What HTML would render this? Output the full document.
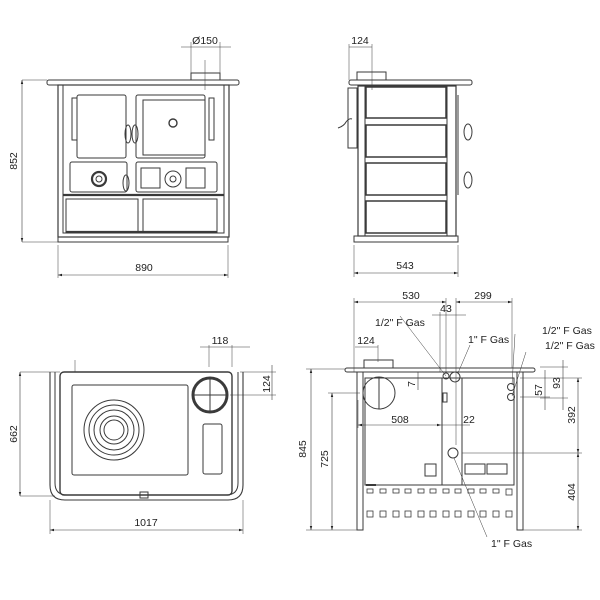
<!DOCTYPE html>
<html><head><meta charset="utf-8"><style>
html,body{margin:0;padding:0;background:#fff}
svg{display:block}
text{font-family:"Liberation Sans",sans-serif;font-size:10.5px;fill:#222}
</style></head><body>
<svg width="600" height="600" viewBox="0 0 600 600" xmlns="http://www.w3.org/2000/svg">
<defs>
<marker id="a" viewBox="0 0 10 10" refX="10" refY="5" markerWidth="7" markerHeight="7" orient="auto-start-reverse"><path d="M0,2 L10,5 L0,8 z" fill="#222"/></marker>
</defs>
<g fill="none" stroke="#3a3a3a" stroke-width="1">
<!-- FRONT VIEW -->
<rect x="47" y="80" width="192" height="5" rx="2"/>
<rect x="191" y="73" width="29" height="7"/>
<line x1="205" y1="60" x2="205" y2="90" stroke-width="0.5"/>
<rect x="58" y="85" width="171" height="152" stroke-width="1.2"/>
<rect x="63" y="85" width="161" height="148"/>
<rect x="77" y="95" width="49" height="63" rx="2"/>
<rect x="136" y="95" width="69" height="63" rx="2"/>
<rect x="143" y="100" width="62" height="55"/>
<circle cx="173" cy="123" r="4" stroke-width="1.4"/>
<rect x="72" y="98" width="5" height="42"/>
<rect x="209" y="98" width="5" height="42"/>
<rect x="70" y="162" width="57" height="30" rx="2"/>
<rect x="136" y="162" width="81" height="30" rx="2"/>
<circle cx="99" cy="179" r="7" stroke-width="2.2"/>
<circle cx="99" cy="179" r="3"/>
<rect x="141" y="168" width="19" height="20"/>
<rect x="186" y="168" width="19" height="20"/>
<circle cx="173" cy="179" r="8"/>
<circle cx="173" cy="179" r="3"/>
<ellipse cx="128" cy="134" rx="3" ry="9"/><ellipse cx="135" cy="134" rx="3" ry="9"/>
<ellipse cx="126" cy="183" rx="3" ry="8"/>
<line x1="63" y1="195" x2="224" y2="195" stroke-width="2.2"/>
<rect x="66" y="199" width="72" height="34"/>
<rect x="143" y="199" width="74" height="34"/>
<line x1="66" y1="232" x2="217" y2="232" stroke-width="2.2"/>
<rect x="58" y="237" width="170" height="5"/>
<!-- front dims -->
<line x1="22" y1="80" x2="47" y2="80" stroke-width="0.5"/>
<line x1="22" y1="242" x2="58" y2="242" stroke-width="0.5"/>
<line x1="22" y1="80" x2="22" y2="242" stroke-width="0.6" marker-start="url(#a)" marker-end="url(#a)"/>
<line x1="58" y1="245" x2="58" y2="278" stroke-width="0.5"/>
<line x1="228" y1="245" x2="228" y2="278" stroke-width="0.5"/>
<line x1="58" y1="275" x2="228" y2="275" stroke-width="0.6" marker-start="url(#a)" marker-end="url(#a)"/>
<line x1="191" y1="42" x2="191" y2="73" stroke-width="0.5"/>
<line x1="220" y1="42" x2="220" y2="73" stroke-width="0.5"/>
<line x1="181" y1="47" x2="231" y2="47" stroke-width="0.6"/>

<!-- SIDE VIEW -->
<rect x="349" y="80" width="123" height="5" rx="2"/>
<rect x="357" y="72" width="29" height="8"/>
<rect x="358" y="86" width="98" height="150" stroke-width="1.2"/>
<rect x="365" y="86" width="82" height="150"/>
<rect x="366" y="87" width="80" height="31" stroke-width="1.5"/>
<rect x="366" y="125" width="80" height="32" stroke-width="1.5"/>
<rect x="366" y="163" width="80" height="32" stroke-width="1.5"/>
<rect x="366" y="201" width="80" height="32" stroke-width="1.5"/>
<rect x="348" y="88" width="9" height="60"/>
<path d="M338,128 q6,-2 8,-6 q3,-4 6,-3"/>
<ellipse cx="468" cy="132" rx="4" ry="8"/>
<ellipse cx="468" cy="180" rx="4" ry="8"/>
<line x1="458" y1="95" x2="458" y2="195"/>
<rect x="354" y="236" width="104" height="6"/>
<line x1="354" y1="245" x2="354" y2="277" stroke-width="0.5"/>
<line x1="458" y1="245" x2="458" y2="277" stroke-width="0.5"/>
<line x1="354" y1="273" x2="458" y2="273" stroke-width="0.6" marker-start="url(#a)" marker-end="url(#a)"/>
<line x1="349" y1="44" x2="349" y2="80" stroke-width="0.5"/>
<line x1="372" y1="44" x2="372" y2="90" stroke-width="0.5"/>
<line x1="349" y1="47" x2="372" y2="47" stroke-width="0.6"/>

<!-- TOP VIEW -->
<path d="M50,372 V485 Q50,500 65,500 H228 Q243,500 243,485 V372" stroke-width="1.1"/>
<path d="M55,372 V483 Q55,495 67,495 H226 Q238,495 238,483 V372"/>
<rect x="60" y="372" width="172" height="123" rx="4" stroke-width="1.4"/>
<rect x="72" y="385" width="116" height="90" rx="2"/>
<circle cx="114" cy="430" r="30"/>
<circle cx="114" cy="430" r="25"/>
<circle cx="114" cy="430" r="20"/>
<circle cx="114" cy="430" r="14"/>
<circle cx="114" cy="430" r="10"/>
<circle cx="210" cy="395" r="17" stroke-width="3"/>
<line x1="193" y1="395" x2="227" y2="395"/>
<line x1="210" y1="378" x2="210" y2="412"/>
<rect x="203" y="424" width="19" height="50" rx="2"/>
<rect x="140" y="492" width="8" height="6"/>
<line x1="75" y1="360" x2="75" y2="372" stroke-width="0.5"/>
<line x1="20" y1="372" x2="60" y2="372" stroke-width="0.5"/>
<line x1="20" y1="496" x2="55" y2="496" stroke-width="0.5"/>
<line x1="20" y1="372" x2="20" y2="496" stroke-width="0.6" marker-start="url(#a)" marker-end="url(#a)"/>
<line x1="50" y1="500" x2="50" y2="534" stroke-width="0.5"/>
<line x1="243" y1="500" x2="243" y2="534" stroke-width="0.5"/>
<line x1="50" y1="530" x2="243" y2="530" stroke-width="0.6" marker-start="url(#a)" marker-end="url(#a)"/>
<line x1="209" y1="345" x2="209" y2="367" stroke-width="0.5"/>
<line x1="232" y1="345" x2="232" y2="367" stroke-width="0.5"/>
<line x1="200" y1="347" x2="250" y2="347" stroke-width="0.6"/>
<line x1="240" y1="372" x2="276" y2="372" stroke-width="0.5"/>
<line x1="230" y1="395" x2="276" y2="395" stroke-width="0.5"/>
<line x1="272" y1="365" x2="272" y2="400" stroke-width="0.6"/>

<!-- BACK VIEW -->
<rect x="345" y="368" width="190" height="4" rx="2"/>
<rect x="364" y="360" width="29" height="8"/>
<rect x="357" y="372" width="6" height="158"/>
<rect x="517" y="372" width="6" height="158"/>
<rect x="365" y="378" width="77" height="107"/>
<rect x="442" y="378" width="20" height="107"/>
<rect x="462" y="378" width="52" height="107"/>
<circle cx="379" cy="393" r="16"/>
<line x1="379" y1="377" x2="379" y2="409"/>
<circle cx="446" cy="376" r="3"/><circle cx="455" cy="377" r="5"/>
<circle cx="511" cy="387" r="3.5"/><circle cx="511" cy="397" r="3.5"/>
<circle cx="453" cy="453" r="5"/>
<rect x="443" y="393" width="4" height="9"/>
<rect x="425" y="464" width="11" height="12"/>
<rect x="465" y="464" width="20" height="10"/>
<rect x="487" y="464" width="20" height="10"/>
<g stroke-width="0.8">
<rect x="367" y="489" width="6" height="4"/><rect x="380" y="489" width="6" height="4"/><rect x="393" y="489" width="6" height="4"/><rect x="405" y="489" width="6" height="4"/><rect x="418" y="489" width="6" height="4"/><rect x="430" y="489" width="6" height="4"/><rect x="443" y="489" width="6" height="4"/><rect x="455" y="489" width="6" height="4"/><rect x="468" y="489" width="6" height="4"/><rect x="480" y="489" width="6" height="4"/><rect x="493" y="489" width="6" height="4"/><rect x="506" y="489" width="6" height="6"/>
<rect x="367" y="511" width="6" height="6"/><rect x="380" y="511" width="6" height="6"/><rect x="393" y="511" width="6" height="6"/><rect x="405" y="511" width="6" height="6"/><rect x="418" y="511" width="6" height="6"/><rect x="430" y="511" width="6" height="6"/><rect x="443" y="511" width="6" height="6"/><rect x="455" y="511" width="6" height="6"/><rect x="468" y="511" width="6" height="6"/><rect x="480" y="511" width="6" height="6"/><rect x="493" y="511" width="6" height="6"/><rect x="506" y="511" width="6" height="6"/>
</g>
<line x1="366" y1="485" x2="376" y2="485" stroke-width="2"/>
<!-- back dims -->
<g stroke-width="0.5">
<line x1="354" y1="298" x2="354" y2="372"/>
<line x1="446" y1="298" x2="446" y2="372"/>
<line x1="456" y1="298" x2="456" y2="445"/>
<line x1="512" y1="298" x2="512" y2="368"/>
<line x1="440" y1="312" x2="440" y2="372"/>
<line x1="378" y1="345" x2="378" y2="362"/>
<line x1="306" y1="369" x2="345" y2="369"/>
<line x1="328" y1="393" x2="360" y2="393"/>
<line x1="306" y1="530" x2="357" y2="530"/>
<line x1="523" y1="530" x2="582" y2="530"/>
<line x1="358" y1="400" x2="358" y2="428"/>
<line x1="462" y1="400" x2="462" y2="445"/>
<line x1="462" y1="453" x2="582" y2="453"/>
<line x1="520" y1="378" x2="582" y2="378"/>
<line x1="520" y1="397" x2="550" y2="397"/>
<line x1="540" y1="367" x2="568" y2="367"/>
<line x1="540" y1="398" x2="568" y2="398"/>
<line x1="400" y1="316" x2="446" y2="376"/>
<line x1="470" y1="345" x2="458" y2="373"/>
<line x1="515" y1="334" x2="512" y2="385"/>
<line x1="526" y1="352" x2="512" y2="396"/>
<line x1="454" y1="458" x2="487" y2="537"/>
</g>
<line x1="354" y1="302" x2="446" y2="302" stroke-width="0.6" marker-start="url(#a)" marker-end="url(#a)"/>
<line x1="456" y1="302" x2="512" y2="302" stroke-width="0.6" marker-start="url(#a)" marker-end="url(#a)"/>
<line x1="432" y1="315" x2="466" y2="315" stroke-width="0.6"/>
<line x1="355" y1="347" x2="378" y2="347" stroke-width="0.6"/>
<line x1="311" y1="369" x2="311" y2="530" stroke-width="0.6" marker-start="url(#a)" marker-end="url(#a)"/>
<line x1="332" y1="393" x2="332" y2="530" stroke-width="0.6" marker-start="url(#a)" marker-end="url(#a)"/>
<line x1="358" y1="425" x2="441" y2="425" stroke-width="0.6" marker-start="url(#a)" marker-end="url(#a)"/>
<line x1="441" y1="425" x2="470" y2="425" stroke-width="0.6"/>
<line x1="578" y1="378" x2="578" y2="453" stroke-width="0.6" marker-start="url(#a)" marker-end="url(#a)"/>
<line x1="578" y1="453" x2="578" y2="530" stroke-width="0.6" marker-start="url(#a)" marker-end="url(#a)"/>
<line x1="563" y1="360" x2="563" y2="410" stroke-width="0.6"/>
<line x1="545" y1="370" x2="545" y2="410" stroke-width="0.6"/>
<line x1="418" y1="372" x2="418" y2="390" stroke-width="0.6"/>
</g>
<!-- text -->
<text x="205" y="44" text-anchor="middle">Ø150</text>
<text x="17" y="161" text-anchor="middle" transform="rotate(-90 17 161)">852</text>
<text x="144" y="271" text-anchor="middle">890</text>
<text x="360" y="44" text-anchor="middle">124</text>
<text x="405" y="269" text-anchor="middle">543</text>
<text x="220" y="344" text-anchor="middle">118</text>
<text x="270" y="384" text-anchor="middle" transform="rotate(-90 270 384)">124</text>
<text x="17" y="434" text-anchor="middle" transform="rotate(-90 17 434)">662</text>
<text x="146" y="526" text-anchor="middle">1017</text>
<text x="411" y="299" text-anchor="middle">530</text>
<text x="483" y="299" text-anchor="middle">299</text>
<text x="446" y="312" text-anchor="middle">43</text>
<text x="375" y="326">1/2" F Gas</text>
<text x="468" y="343">1" F Gas</text>
<text x="542" y="334">1/2" F Gas</text>
<text x="545" y="349">1/2" F Gas</text>
<text x="366" y="344" text-anchor="middle">124</text>
<text x="415" y="384" text-anchor="middle" transform="rotate(-90 415 384)">7</text>
<text x="400" y="423" text-anchor="middle">508</text>
<text x="469" y="423" text-anchor="middle">22</text>
<text x="306" y="449" text-anchor="middle" transform="rotate(-90 306 449)">845</text>
<text x="328" y="459" text-anchor="middle" transform="rotate(-90 328 459)">725</text>
<text x="560" y="383" text-anchor="middle" transform="rotate(-90 560 383)">93</text>
<text x="542" y="390" text-anchor="middle" transform="rotate(-90 542 390)">57</text>
<text x="575" y="415" text-anchor="middle" transform="rotate(-90 575 415)">392</text>
<text x="575" y="492" text-anchor="middle" transform="rotate(-90 575 492)">404</text>
<text x="491" y="547">1" F Gas</text>
</svg>
</body></html>
